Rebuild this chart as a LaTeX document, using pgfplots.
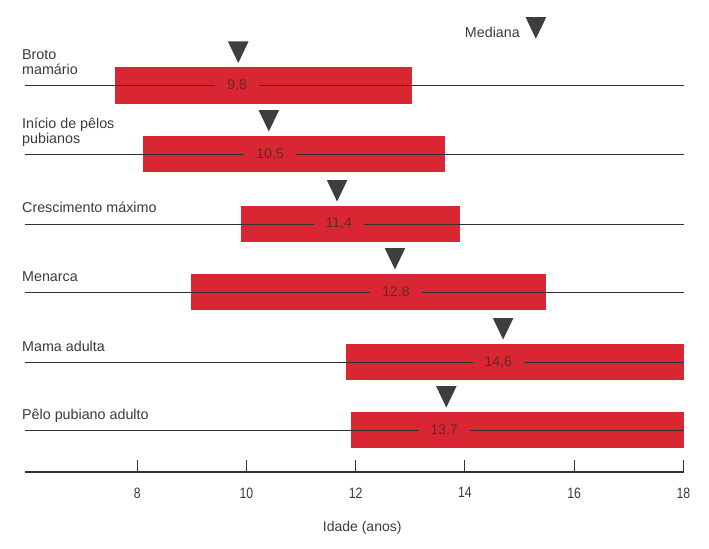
\documentclass[border=0pt]{standalone}
\usepackage{pgfplots}
\pgfplotsset{compat=1.18}
\usepackage{fontspec}
\setmainfont{Liberation Sans}
\newfontfamily\narrowfont[FakeStretch=0.82]{Liberation Sans}

\definecolor{barred}{RGB}{216,38,50}
\definecolor{trigray}{RGB}{62,62,62}
\definecolor{txtgray}{RGB}{58,58,58}
\definecolor{valred}{RGB}{105,38,40}
\definecolor{linegray}{RGB}{50,50,50}

% downward triangle used for the medians
\pgfdeclareplotmark{dtri}{%
  \pgfpathmoveto{\pgfqpoint{-10.3pt}{10.75pt}}%
  \pgfpathlineto{\pgfqpoint{10.3pt}{10.75pt}}%
  \pgfpathlineto{\pgfqpoint{0pt}{-10.75pt}}%
  \pgfpathclose\pgfusepathqfill}

\begin{document}
\begin{tikzpicture}
\begin{axis}[
  scale only axis, width=659pt, height=472pt,
  xmin=5.945, xmax=18.013, ymin=0, ymax=472,
  axis x line*=bottom, axis y line=none,
  axis line style={line width=1.8pt, color=linegray},
  xtick={8,10,12,14,16,18}, ytick=\empty,
  tick align=inside, major tick length=12pt,
  tick style={line width=1.2pt, color=linegray},
  /pgf/number format/assume math mode=true,
  x tick label style={font=\narrowfont\fontsize{15}{17}\selectfont, text=txtgray, yshift=-12pt},
  clip=false,
  every node/.append style={text=txtgray},
]
% bars: start, end, row centre +/- 18
\addplot[fill=barred, draw=none] coordinates {(7.60,368.5) (13.03,368.5) (13.03,404.5) (7.60,404.5)} --cycle;
\addplot[fill=barred, draw=none] coordinates {(8.11,300) (13.64,300) (13.64,336) (8.11,336)} --cycle;
\addplot[fill=barred, draw=none] coordinates {(9.90,230) (13.91,230) (13.91,266) (9.90,266)} --cycle;
\addplot[fill=barred, draw=none] coordinates {(8.99,162) (15.49,162) (15.49,198) (8.99,198)} --cycle;
\addplot[fill=barred, draw=none] coordinates {(11.82,92) (18.013,92) (18.013,128) (11.82,128)} --cycle;
\addplot[fill=barred, draw=none] coordinates {(11.92,24) (18.013,24) (18.013,60) (11.92,60)} --cycle;

% row lines
\addplot[linegray, line width=1pt] coordinates {(5.945,386.5) (18.013,386.5)};
\addplot[linegray, line width=1pt] coordinates {(5.945,318) (18.013,318)};
\addplot[linegray, line width=1pt] coordinates {(5.945,248) (18.013,248)};
\addplot[linegray, line width=1pt] coordinates {(5.945,180) (18.013,180)};
\addplot[linegray, line width=1pt] coordinates {(5.945,110) (18.013,110)};
\addplot[linegray, line width=1pt] coordinates {(5.945,42) (18.013,42)};

% medians
\addplot[only marks, mark=dtri, color=trigray] coordinates {
  (9.85,419.75) (10.41,351.25) (11.66,281.25) (12.72,213.25) (14.70,143.25) (13.66,75.25)
  (15.30,444)};

% median values on the bars
\begin{scope}[every node/.style={fill=barred, inner xsep=12pt, inner ysep=1pt, text=valred,
    font=\fontsize{14}{16}\selectfont}]
\node at (axis cs:9.83,386.5) {9,8};
\node at (axis cs:10.43,318) {10,5};
\node at (axis cs:11.69,248) {11,4};
\node at (axis cs:12.74,180) {12,8};
\node at (axis cs:14.61,110) {14,6};
\node at (axis cs:13.62,42) {13,7};
\end{scope}

% row labels
\begin{scope}[every node/.style={anchor=base west, inner sep=0pt, text=txtgray,
    font=\fontsize{14.3}{16}\selectfont}]
\node at (axis cs:5.89,412.5) {Broto};
\node at (axis cs:5.89,397.5) {mamário};
\node at (axis cs:5.89,344) {Início de pêlos};
\node at (axis cs:5.89,329) {pubianos};
\node at (axis cs:5.89,260) {Crescimento máximo};
\node at (axis cs:5.89,191) {Menarca};
\node at (axis cs:5.89,121) {Mama adulta};
\node at (axis cs:5.89,53) {Pêlo pubiano adulto};
\node[anchor=base east] at (axis cs:15.01,434) {Mediana};
\end{scope}

% axis title
\node[text=txtgray, font=\fontsize{14}{16}\selectfont] at (axis cs:12.12,-56) {Idade (anos)};

\coordinate (bbl) at (axis cs:5.4876,-76);
\coordinate (bbr) at (axis cs:18.470,472);
\end{axis}
\pgfresetboundingbox
\path[use as bounding box] (bbl) rectangle (bbr);
\end{tikzpicture}
\end{document}
